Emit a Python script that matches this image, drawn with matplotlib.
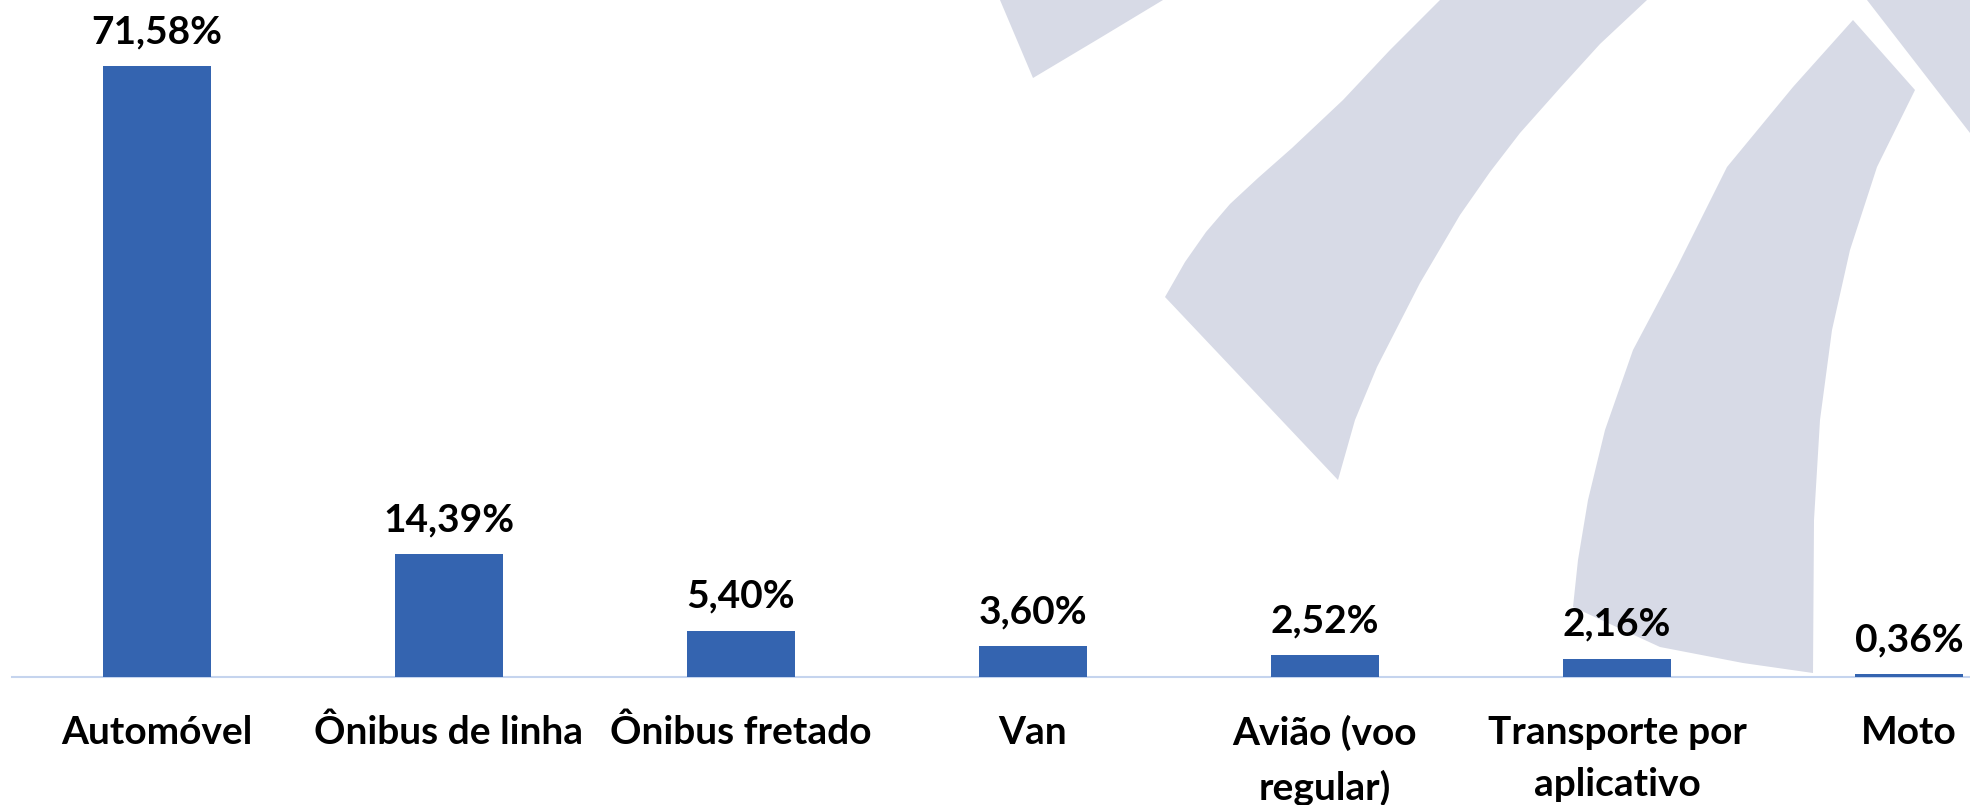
import matplotlib
matplotlib.use("Agg")
import matplotlib.pyplot as plt
from matplotlib.patches import Polygon

categories = [
    "Automóvel",
    "Ônibus de linha",
    "Ônibus fretado",
    "Van",
    "Avião (voo\nregular)",
    "Transporte por\naplicativo",
    "Moto",
]
shares = [71.58, 14.39, 5.40, 3.60, 2.52, 2.16, 0.36]

BAR_COLOR = "#3464B0"
AXIS_COLOR = "#C5D4EE"
MARK_COLOR = "#D7DAE6"

# background watermark outline, in figure pixels (y down)
watermark = [
    [(1000, 0), (1163, 0), (1100, 38), (1033, 78)],
    [(1440, 0), (1390, 50), (1343, 100), (1292, 148), (1258, 178),
     (1230, 204), (1206, 232), (1185, 262), (1165, 297), (1338, 480),
     (1355, 420), (1377, 367), (1420, 283), (1460, 215), (1490, 172),
     (1520, 133), (1560, 88), (1600, 44), (1647, 0)],
    [(1853, 20), (1915, 90), (1877, 167), (1850, 250), (1832, 330),
     (1820, 420), (1814, 520), (1813, 673), (1743, 663), (1660, 647),
     (1573, 607), (1578, 560), (1588, 500), (1605, 430), (1633, 350),
     (1677, 267), (1727, 167), (1793, 87)],
    [(1867, 0), (1970, 0), (1970, 133)],
]


def pct(v):
    """Format a value like 71,58%."""
    return f"{v:.2f}%".replace(".", ",")


def draw_watermark(fig):
    bg = fig.add_axes([0, 0, 1, 1])
    bg.set_xlim(0, 1970)
    bg.set_ylim(805, 0)
    bg.axis("off")
    for pts in watermark:
        bg.add_patch(Polygon(pts, closed=True, facecolor=MARK_COLOR,
                             edgecolor="none"))


def plot_bars(fig):
    ax = fig.add_axes([11.5 / 1970, 128 / 805, 1958.5 / 1970, 677 / 805])
    ax.set_facecolor("none")
    x = range(len(categories))
    bars = ax.bar(x, shares, width=0.37, color=BAR_COLOR, zorder=3)

    for bar, v in zip(bars, shares):
        ax.annotate(pct(v), (bar.get_x() + bar.get_width() / 2, v),
                    xytext=(0, 16.5), textcoords="offset points",
                    ha="center", va="baseline", fontsize=28,
                    fontweight="bold", color="black")

    ax.set_xlim(-0.498, 6.209)
    ax.set_ylim(0, 79.3)
    ax.set_xticks(list(x))
    ax.set_xticklabels(categories, fontsize=28, fontweight="bold",
                       linespacing=1.62, ha="center")
    ax.tick_params(axis="x", length=0, pad=27)
    ax.set_yticks([])
    for side in ["top", "right", "left"]:
        ax.spines[side].set_visible(False)
    ax.spines["bottom"].set_color(AXIS_COLOR)
    ax.spines["bottom"].set_linewidth(1.5)
    return ax


def main():
    plt.rcParams["font.family"] = ["Lato", "DejaVu Sans"]
    fig = plt.figure(figsize=(19.7, 8.05), dpi=100)
    fig.patch.set_facecolor("white")
    draw_watermark(fig)
    plot_bars(fig)
    fig.savefig("out.png", dpi=100, facecolor="white")


if __name__ == "__main__":
    main()
